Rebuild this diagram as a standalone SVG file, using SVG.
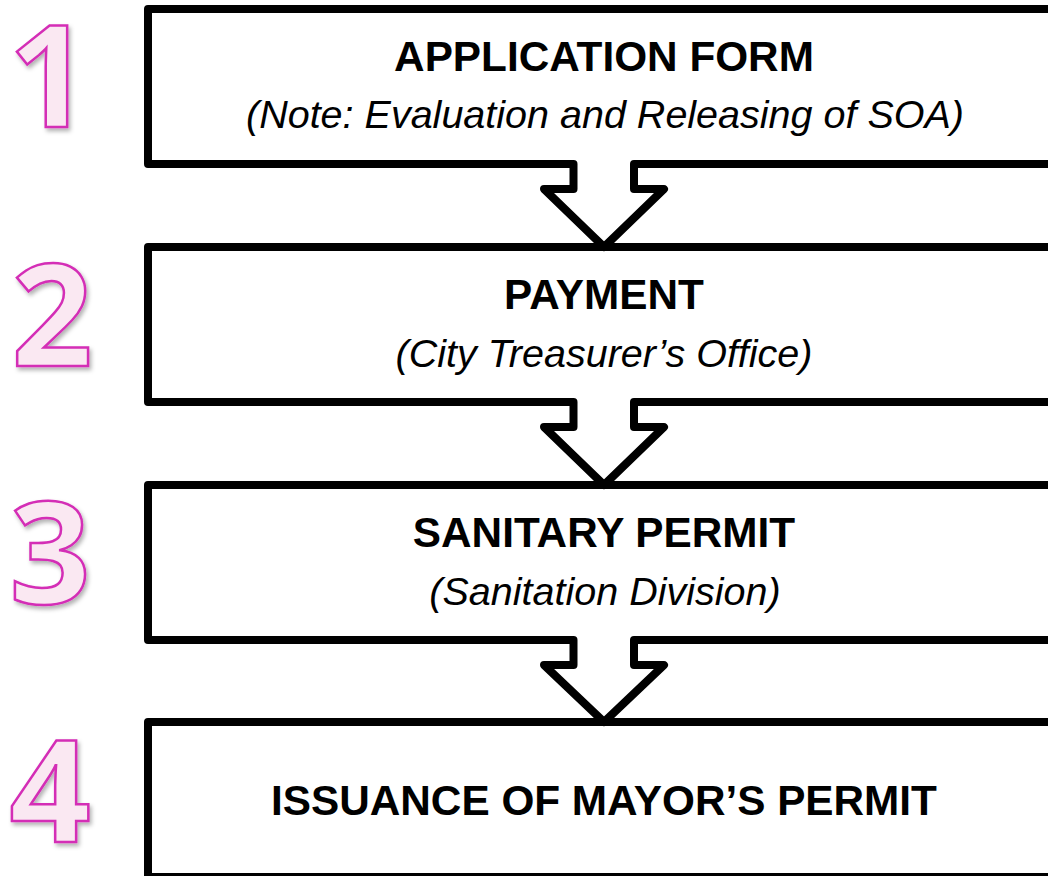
<svg xmlns="http://www.w3.org/2000/svg" width="1048" height="876" viewBox="0 0 1048 876">
<style>
.box{fill:#fff;stroke:#000;stroke-width:8;stroke-linejoin:round}
.arr{fill:none;stroke:#000;stroke-width:8;stroke-linejoin:round;stroke-linecap:round}
.fillw{fill:#fff;stroke:none}
.num{font-family:"Open Sans","DejaVu Sans",sans-serif;font-weight:700;font-size:142px;fill:#FAE8F2;stroke:#D42DB6;stroke-width:2.5;text-anchor:middle;filter:url(#sh)}
.t{font-family:"Liberation Sans",Arial,sans-serif;font-weight:bold;font-size:42.3px;fill:#000;text-anchor:middle}
.s{font-family:"Liberation Sans",Arial,sans-serif;font-style:italic;font-size:39.5px;fill:#000;text-anchor:middle}
</style>
<defs>
<filter id="sh" x="-30%" y="-30%" width="160%" height="160%">
<feDropShadow dx="2" dy="3" stdDeviation="2" flood-color="#000" flood-opacity="0.3"/>
</filter>
</defs>
<rect width="1048" height="876" fill="#fff"/>
<g id="step1">
<text class="num" x="49" y="127">1</text>
<rect class="box" x="148" y="9" width="1000" height="155"/>
<text class="t" x="604" y="71">APPLICATION FORM</text>
<text class="s" x="605" y="128">(Note: Evaluation and Releasing of SOA)</text>
</g>
<g id="step2">
<text class="num" x="52" y="366">2</text>
<rect class="box" x="148" y="247" width="1000" height="155"/>
<text class="t" x="604" y="309">PAYMENT</text>
<text class="s" x="604" y="367">(City Treasurer’s Office)</text>
</g>
<g id="step3">
<text class="num" x="50" y="604">3</text>
<rect class="box" x="148" y="485" width="1000" height="155"/>
<text class="t" x="604" y="547">SANITARY PERMIT</text>
<text class="s" x="605" y="605">(Sanitation Division)</text>
</g>
<g id="step4">
<text class="num" x="50" y="842">4</text>
<rect class="box" x="148" y="722" width="1000" height="155"/>
<text class="t" x="604" y="815">ISSUANCE OF MAYOR’S PERMIT</text>
</g>
<g id="connectors">
<g>
<path class="fillw" d="M573.5,158 L573.5,189 L544,189 L604,247 L664,189 L634,189 L634,158 Z"/>
<path class="arr" d="M573.5,164 L573.5,189 L544,189 L604,247 L664,189 L634,189 L634,164"/>
</g>
<g>
<path class="fillw" d="M573.5,396 L573.5,427 L544,427 L604,485 L664,427 L634,427 L634,396 Z"/>
<path class="arr" d="M573.5,402 L573.5,427 L544,427 L604,485 L664,427 L634,427 L634,402"/>
</g>
<g>
<path class="fillw" d="M573.5,634 L573.5,665 L544,665 L604,722 L664,665 L634,665 L634,634 Z"/>
<path class="arr" d="M573.5,640 L573.5,665 L544,665 L604,722 L664,665 L634,665 L634,640"/>
</g>
</g>
</svg>
